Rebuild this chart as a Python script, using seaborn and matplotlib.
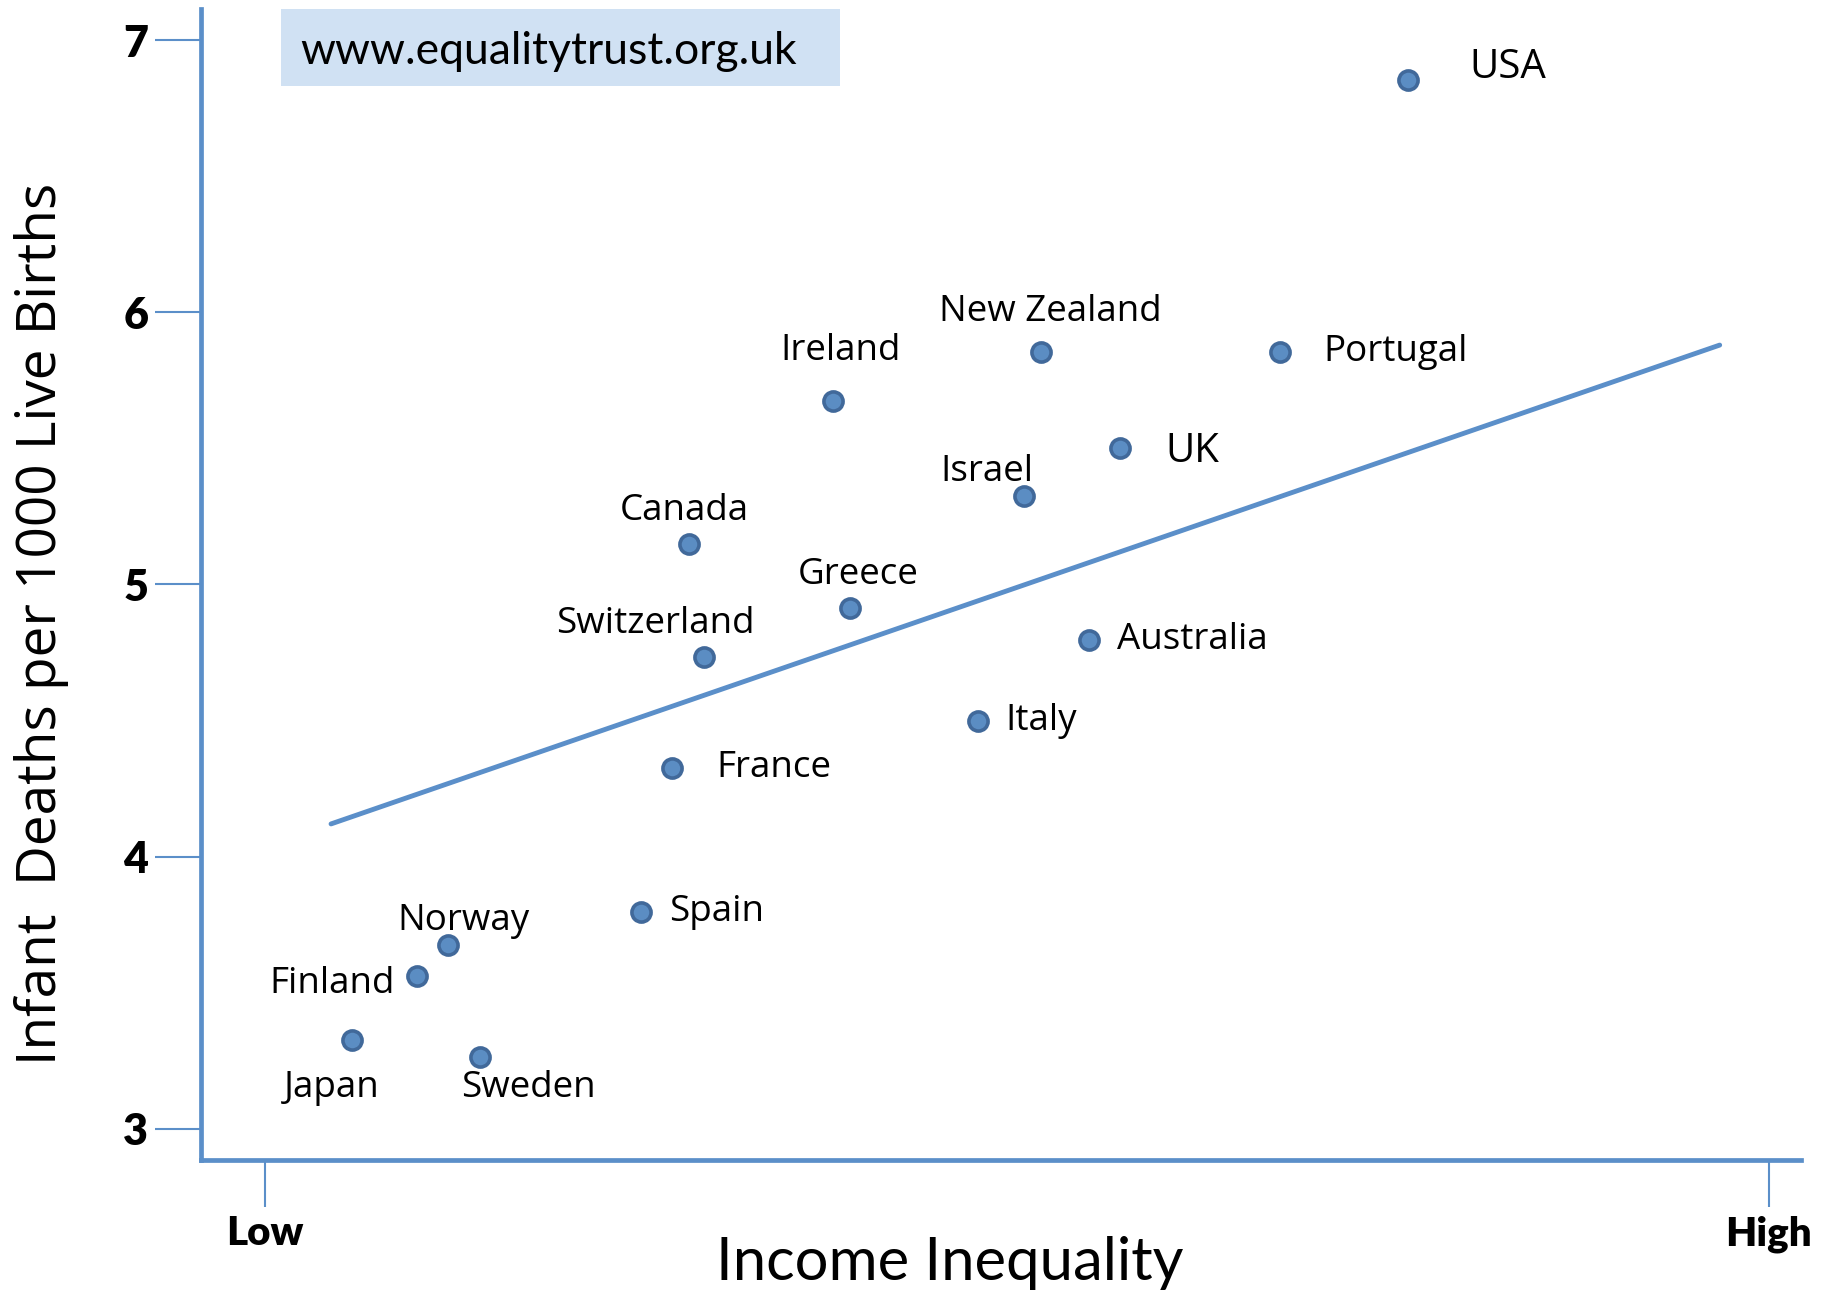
import pandas as pd
import matplotlib.pyplot as plt
import seaborn as sns
from matplotlib.patches import Rectangle

# ---------------- data ----------------
countries = ['USA', 'Portugal', 'New Zealand', 'Ireland', 'UK', 'Israel', 'Canada',
             'Greece', 'Switzerland', 'Australia', 'Italy', 'France', 'Spain',
             'Norway', 'Finland', 'Japan', 'Sweden']
inequality = [7.60, 6.75, 5.16, 3.78, 5.69, 5.05, 2.82,
              3.89, 2.92, 5.48, 4.74, 2.71, 2.50,
              1.22, 1.01, 0.58, 1.43]
infant_deaths = [6.855, 5.855, 5.855, 5.675, 5.50, 5.325, 5.15,
                 4.915, 4.735, 4.795, 4.50, 4.325, 3.795,
                 3.675, 3.56, 3.325, 3.265]

# trend line end points
trend_x = [0.44, 9.675]
trend_y = [4.12, 5.88]

# label offsets in pixels (dx, dy, ha)
label_pos = {
    'USA': (62, 12, 'left'), 'Portugal': (44, 0, 'left'),
    'New Zealand': (10, 40, 'center'), 'Ireland': (7, 50, 'center'),
    'UK': (45, -3, 'left'), 'Israel': (-37, 24, 'center'),
    'Canada': (-5, 33, 'center'), 'Greece': (8, 33, 'center'),
    'Switzerland': (-49, 33, 'center'), 'Australia': (28, 0, 'left'),
    'Italy': (28, 0, 'left'), 'France': (44, 0, 'left'),
    'Spain': (28, 0, 'left'), 'Norway': (15, 24, 'center'),
    'Finland': (-22, -8, 'right'), 'Japan': (-20, -48, 'center'),
    'Sweden': (48, -31, 'center'),
}

df = pd.DataFrame({'country': countries, 'x': inequality, 'y': infant_deaths})
trend = pd.DataFrame({'x': trend_x, 'y': trend_y})

BLUE = '#5B8FC9'
sns.set_theme(style='white')
plt.rcParams['font.family'] = ['Open Sans', 'DejaVu Sans']

fig = plt.figure(figsize=(18.22, 12.96), dpi=100)
ax = fig.add_axes([0.1103, 0.105, 0.8782, 0.888])

sns.lineplot(data=trend, x='x', y='y', color=BLUE, linewidth=3.5, ax=ax, zorder=2)
sns.scatterplot(data=df, x='x', y='y', s=190, color='#5B8DC3', edgecolor='#41699A',
                linewidth=2.6, ax=ax, zorder=3)

for c, xv, yv in zip(countries, inequality, infant_deaths):
    dx, dy, ha = label_pos[c]
    fs = 29 if c in ('USA', 'UK') else 26.5
    ax.annotate(c, (xv, yv), xytext=(dx, dy), textcoords='offset pixels',
                ha=ha, va='center', fontsize=fs, color='black')

ax.set_xlim(-0.425, 10.216)
ax.set_ylim(2.885, 7.115)
ax.set_xticks([0, 10])
ax.set_xticklabels(['Low', 'High'], fontsize=29, fontweight='heavy', family='Lato',
                   color='black')
ax.set_yticks([3, 4, 5, 6, 7])
ax.set_yticklabels(['3', '4', '5', '6', '7'], fontsize=31, fontweight='heavy',
                   family='Lato', color='black')
ax.tick_params(axis='x', length=34, width=1.5, color=BLUE, pad=6, bottom=True)
ax.tick_params(axis='y', length=33, width=1.5, color=BLUE, pad=5, left=True)

for side in ('top', 'right'):
    ax.spines[side].set_visible(False)
for side in ('left', 'bottom'):
    ax.spines[side].set_color(BLUE)
    ax.spines[side].set_linewidth(3.4)

ax.set_xlabel('Income Inequality', fontsize=43, family='Lato', color='black')
ax.xaxis.set_label_coords(0.468, -0.09)
ax.xaxis.label.set_va('center')
ax.set_ylabel('Infant  Deaths per 1000 Live Births', fontsize=39.5, color='black')
ax.yaxis.set_label_coords(-0.0995, 0.4657)
ax.yaxis.label.set_va('center')

# source box
fig.add_artist(Rectangle((0.154, 0.9336), 0.307, 0.0594, transform=fig.transFigure,
                         facecolor='#D0E1F3', edgecolor='none'))
fig.text(0.1647, 0.9606, 'www.equalitytrust.org.uk', fontsize=32, family='Lato',
         va='center', ha='left', color='black')

fig.savefig('out.png', dpi=100)
